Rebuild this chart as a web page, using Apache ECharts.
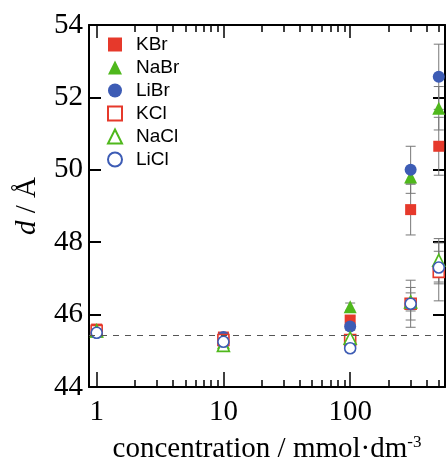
<!DOCTYPE html>
<html>
<head>
<meta charset="utf-8">
<script src="https://cdn.jsdelivr.net/npm/echarts@6/dist/echarts.min.js"></script>
<style>
  html, body { margin: 0; padding: 0; background: #fff; }
  #main { width: 446px; height: 460px; }
</style>
</head>
<body>
<div id="main"></div>
<script>
// 浓度 (mmol/dm3)
var conc = [1, 10, 100, 300, 500];

// d 值 (Å) 以及误差
var kbr = [45.6, 45.38, 45.85, 48.9, 50.65];
var kbrErr = [0.05, 0.05, 0.1, 0.7, 0.8];
var nabr = [45.55, 45.22, 46.22, 49.8, 51.7];
var nabrErr = [0.05, 0.05, 0.1, 0.17, 0.6];
var libr = [45.5, 45.38, 45.67, 50.0, 52.57];
var librErr = [0.05, 0.05, 0.1, 0.65, 0.9];
var kcl = [45.55, 45.3, 45.3, 46.3, 47.18];
var kclErr = [0.05, 0.05, 0.1, 0.65, 0.8];
var nacl = [45.55, 45.15, 45.35, 46.35, 47.5];
var naclErr = [0.05, 0.05, 0.1, 0.25, 0.6];
var licl = [45.5, 45.25, 45.07, 46.3, 47.3];
var liclErr = [0.05, 0.05, 0.1, 0.45, 0.45];

var baseLine = 45.43;

// 刻度
var majorTicks = [1, 10, 100];
var minorTicks = [2, 3, 4, 5, 6, 7, 8, 9, 20, 30, 40, 50, 60, 70, 80, 90, 200, 300, 400, 500];
var xMin = 0.87, xMax = 560;

var RED = "#e6392b", GREEN = "#4fb81c", BLUE = "#3d5cb5";
var serif = "Liberation Serif";
var sans = "Liberation Sans";

function pairs(ys) {
  return conc.map(function (x, i) { return [x, ys[i]]; });
}
function errData(ys, es) {
  return conc.map(function (x, i) { return [x, ys[i], es[i]]; });
}

function errorSeries(ys, es) {
  return {
    type: "custom",
    z: 1,
    silent: true,
    data: errData(ys, es),
    renderItem: function (params, api) {
      var x = api.value(0), y = api.value(1), e = api.value(2);
      var hi = api.coord([x, y + e]);
      var lo = api.coord([x, y - e]);
      var w = 5;
      var st = { stroke: "#777", lineWidth: 1 };
      return {
        type: "group",
        children: [
          { type: "line", shape: { x1: hi[0], y1: hi[1], x2: lo[0], y2: lo[1] }, style: st },
          { type: "line", shape: { x1: hi[0] - w, y1: hi[1], x2: hi[0] + w, y2: hi[1] }, style: st },
          { type: "line", shape: { x1: lo[0] - w, y1: lo[1], x2: lo[0] + w, y2: lo[1] }, style: st }
        ]
      };
    }
  };
}

function scatter(name, ys, symbol, color, filled, size) {
  return {
    name: name,
    type: "scatter",
    z: 3,
    symbol: symbol,
    symbolSize: size,
    data: pairs(ys),
    itemStyle: filled
      ? { color: color, opacity: 1 }
      : { color: "#fff", borderColor: color, borderWidth: 1.6, opacity: 1 }
  };
}

var chart = echarts.init(document.getElementById("main"));

function logAxis(pos, ticks, len, show) {
  return {
    type: "log",
    logBase: 10,
    min: xMin,
    max: xMax,
    position: pos,
    axisLine: { show: show, lineStyle: { color: "#000", width: 2 } },
    axisTick: { show: true, inside: true, length: len, customValues: ticks, lineStyle: { color: "#000", width: 1.5 } },
    axisLabel: { show: false },
    splitLine: { show: false },
    minorTick: { show: false }
  };
}

var xBottom = logAxis("bottom", majorTicks, 15, true);
xBottom.axisLabel = {
  show: true,
  customValues: majorTicks,
  color: "#000",
  fontFamily: serif,
  fontSize: 29,
  margin: 11
};
xBottom.name = "concentration / mmol·dm{sup|-3}";
xBottom.nameLocation = "middle";
xBottom.nameGap = 47;
xBottom.nameTextStyle = {
  color: "#000",
  fontFamily: serif,
  fontSize: 29,
  rich: {
    sup: { fontFamily: serif, fontSize: 17, color: "#000", verticalAlign: "top", padding: [0, 0, 13, 0] }
  }
};

var option = {
  animation: false,
  backgroundColor: "#fff",
  grid: { left: 89, right: 1, top: 25, bottom: 73, containLabel: false, outerBoundsMode: "none" },
  legend: {
    orient: "vertical",
    left: 107,
    top: 35,
    padding: 0,
    itemWidth: 14,
    itemHeight: 14,
    itemGap: 4,
    textStyle: { fontFamily: sans, fontSize: 19, color: "#000", padding: [0, 0, 0, 9] },
    data: ["KBr", "NaBr", "LiBr", "KCl", "NaCl", "LiCl"]
  },
  xAxis: [
    xBottom,
    logAxis("top", majorTicks, 13, true),
    logAxis("bottom", minorTicks, 7, false),
    logAxis("top", minorTicks, 7, false)
  ],
  yAxis: [
    {
      type: "value",
      min: 44,
      max: 54,
      interval: 2,
      position: "left",
      axisLine: { show: true, lineStyle: { color: "#000", width: 2 } },
      axisTick: { show: true, inside: true, length: 12, lineStyle: { color: "#000", width: 2 } },
      axisLabel: { color: "#000", fontFamily: serif, fontSize: 29, margin: 6 },
      splitLine: { show: false },
      name: "{i|d} / Å",
      nameLocation: "middle",
      nameRotate: 90,
      nameGap: 47,
      nameTextStyle: {
        color: "#000",
        fontFamily: serif,
        fontSize: 29,
        rich: { i: { fontFamily: serif, fontStyle: "italic", fontSize: 29, color: "#000" } }
      }
    },
    {
      type: "value",
      min: 44,
      max: 54,
      interval: 2,
      position: "right",
      axisLine: { show: true, lineStyle: { color: "#000", width: 2 } },
      axisTick: { show: true, inside: true, length: 12, lineStyle: { color: "#000", width: 2 } },
      axisLabel: { show: false },
      splitLine: { show: false }
    }
  ],
  series: [
    errorSeries(kbr, kbrErr),
    errorSeries(nabr, nabrErr),
    errorSeries(libr, librErr),
    errorSeries(kcl, kclErr),
    errorSeries(nacl, naclErr),
    errorSeries(licl, liclErr),
    {
      type: "line",
      data: [],
      markLine: {
        silent: true,
        symbol: "none",
        label: { show: false },
        lineStyle: { color: "#555", width: 1, type: [6, 6] },
        data: [{ yAxis: baseLine }]
      }
    },
    scatter("KBr", kbr, "rect", RED, true, 11),
    scatter("NaBr", nabr, "triangle", GREEN, true, 13),
    scatter("LiBr", libr, "circle", BLUE, true, 12),
    scatter("KCl", kcl, "rect", RED, false, 11),
    scatter("NaCl", nacl, "triangle", GREEN, false, 12),
    scatter("LiCl", licl, "circle", BLUE, false, 11)
  ]
};

chart.setOption(option);
</script>
</body>
</html>
